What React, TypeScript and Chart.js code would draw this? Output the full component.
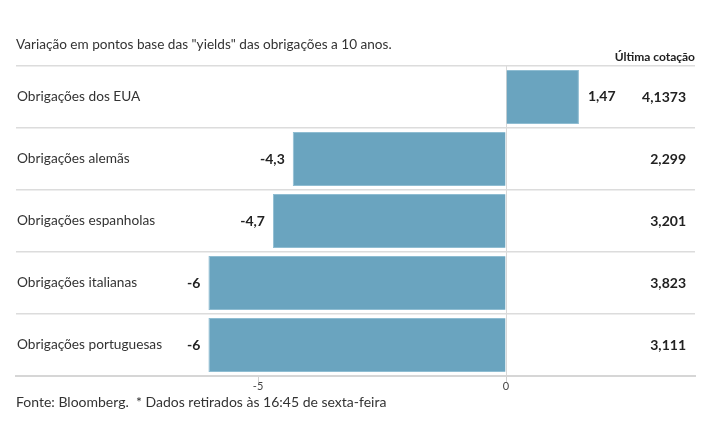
import React, { useEffect, useRef } from "react";
import { Chart, registerables } from "chart.js";
Chart.register(...registerables);

const categories = [
  "Obrigações dos EUA",
  "Obrigações alemãs",
  "Obrigações espanholas",
  "Obrigações italianas",
  "Obrigações portuguesas",
];
const variation = [1.47, -4.3, -4.7, -6, -6];
const lastQuote = ["4,1373", "2,299", "3,201", "3,823", "3,111"];
const xTicks = [-5, 0];

const FONT = "Lato, 'Open Sans', sans-serif";
const fmt = (v: number) => String(v).replace(".", ",");

export default function App() {
  const ref = useRef<HTMLCanvasElement>(null);
  useEffect(() => {
    const labelsPlugin = {
      id: "labels",
      afterDraw(chart: any) {
        const { ctx, chartArea } = chart;
        const xs = chart.scales.x;
        const meta = chart.getDatasetMeta(0);
        ctx.save();
        ctx.textBaseline = "middle";
        meta.data.forEach((bar: any, i: number) => {
          const y = bar.y;
          ctx.font = `13.7px ${FONT}`;
          ctx.fillStyle = "#333";
          ctx.textAlign = "left";
          ctx.fillText(categories[i], chartArea.left + 1, y);
          const v = variation[i];
          ctx.font = `bold 14px ${FONT}`;
          ctx.fillStyle = "#222";
          if (v >= 0) {
            ctx.textAlign = "left";
            ctx.fillText(fmt(v), xs.getPixelForValue(v) + 9, y - 1);
          } else {
            ctx.textAlign = "right";
            ctx.fillText(fmt(v), xs.getPixelForValue(v) - 8, y);
          }
          ctx.textAlign = "right";
          ctx.fillText(lastQuote[i], chartArea.right - 9, y);
        });
        ctx.font = `13.6px ${FONT}`;
        ctx.fillStyle = "#333";
        ctx.textAlign = "left";
        ctx.fillText('Variação em pontos base das "yields" das obrigações a 10 anos.', 16, 45);
        ctx.font = `bold 12px ${FONT}`;
        ctx.fillStyle = "#222";
        ctx.textAlign = "right";
        ctx.fillText("Última cotação", chartArea.right, 57);
        ctx.font = `14px ${FONT}`;
        ctx.fillStyle = "#333";
        ctx.textAlign = "left";
        ctx.fillText("Fonte: Bloomberg.  * Dados retirados às 16:45 de sexta-feira", 16, 402);
        ctx.restore();
      },
    };
    const chart = new Chart(ref.current!, {
      type: "bar",
      data: {
        labels: categories,
        datasets: [
          {
            data: variation,
            backgroundColor: "#6aa4bf",
            borderColor: "#8fbdd2",
            borderWidth: 1,
            barPercentage: 0.87,
            categoryPercentage: 1,
          },
        ],
      },
      options: {
        indexAxis: "y",
        animation: false,
        responsive: false,
        layout: { padding: { left: 16, right: 20, top: 66, bottom: 39 } },
        plugins: { legend: { display: false }, tooltip: { enabled: false } },
        scales: {
          x: {
            min: -9.88,
            max: 3.81,
            afterBuildTicks: (s: any) => {
              s.ticks = xTicks.map((v) => ({ value: v }));
            },
            afterFit: (s: any) => {
              s.height = 30;
            },
            ticks: {
              font: { family: FONT, size: 11 },
              color: "#444",
              padding: -2,
              callback: (v: any) => String(v),
            },
            grid: {
              color: (c: any) => (c.tick && c.tick.value === 0 ? "#d8d8d8" : "rgba(0,0,0,0)"),
              tickColor: "#cfcfcf",
              tickLength: 6,
              lineWidth: 1,
            },
            border: { display: true, color: "#d6d6d6", width: 2 },
          },
          y: {
            afterFit: (s: any) => {
              s.width = 0;
            },
            ticks: { display: false },
            grid: { offset: true, color: "#dcdcdc", lineWidth: 1.5, drawTicks: false },
            border: { display: false },
          },
        },
      },
      plugins: [labelsPlugin],
    } as any);
    return () => chart.destroy();
  }, []);
  return (
    <div style={{ position: "absolute", left: 0, top: 0, width: 715, height: 445, background: "#fff" }}>
      <canvas ref={ref} width={715} height={445} style={{ display: "block" }} />
    </div>
  );
}
